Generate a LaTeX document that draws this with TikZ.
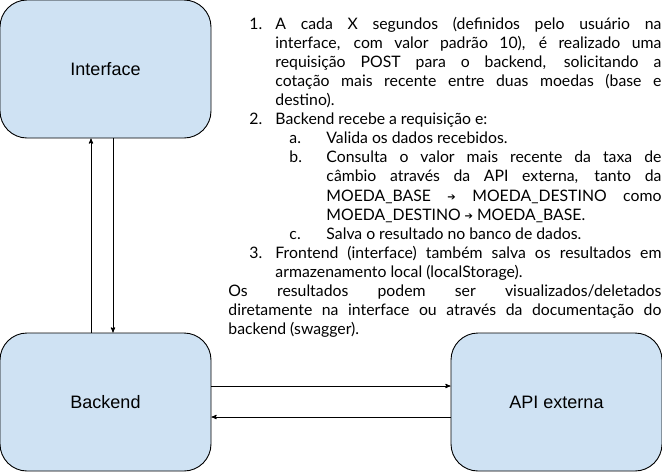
\documentclass[tikz,border=0pt]{standalone}
\usepackage{fontspec}
\setmainfont{Lato}
\newfontfamily\boxfont{Liberation Sans}
\newfontfamily\arrowfont{DejaVu Sans}
\usetikzlibrary{arrows,positioning}
\definecolor{boxblue}{HTML}{CFE2F3}
\newcommand{\ar}{{\arrowfont\fontsize{10pt}{10pt}\selectfont\raisebox{0.5pt}{➔}}}
\newcommand{\numitem}[3]{\par\leftskip=#1\relax\noindent\hbox to 0pt{\hss\makebox[#2][l]{#3}}}

\begin{document}
\begin{tikzpicture}[->,>=stealth',x=1pt,y=1pt,node distance=333pt,
                    line width=0.9pt]
  \tikzstyle{box}=[draw=black,fill=boxblue,rounded corners=27pt,
                   minimum width=211pt,minimum height=138pt,
                   font=\boxfont\fontsize{18pt}{20pt}\selectfont]
  \tikzstyle{notes}=[text width=433pt,inner sep=0pt,align=justify,
                     font=\fontsize{15.8pt}{19.06pt}\selectfont]
  \useasboundingbox (0,0) rectangle (662,-475);

  \node[box]  (IF) at (105.5,-69)                  {Interface};
  \node[box]  (BE) [below of = IF]                 {Backend};
  \node[box]  (API) [right of = BE, node distance=451pt] {API externa};

  \node[notes, anchor=north west] (TX) at (228,-10) {%
    \spaceskip=0.25em plus 0.4em minus 0.1em
    \numitem{47pt}{26pt}{1.}A cada X segundos (definidos pelo usuário na\linebreak
    interface, com valor padrão 10), é realizado uma\linebreak
    requisição POST para o backend, solicitando a\linebreak
    cotação mais recente entre duas moedas (base e\linebreak
    destino).
    \numitem{47pt}{26pt}{2.}Backend recebe a requisição e:
    \numitem{98pt}{37pt}{a.}Valida os dados recebidos.
    \numitem{98pt}{37pt}{b.}Consulta o valor mais recente da taxa de\linebreak
    câmbio através da API externa, tanto da\linebreak
    MOEDA\_BASE \ar{} MOEDA\_DESTINO como\linebreak
    MOEDA\_DESTINO \ar{} MOEDA\_BASE.
    \numitem{98pt}{37pt}{c.}Salva o resultado no banco de dados.
    \numitem{47pt}{26pt}{3.}Frontend (interface) também salva os resultados em\linebreak
    armazenamento local (localStorage).
    \par\leftskip=0pt\noindent Os resultados podem ser visualizados/deletados\linebreak
    diretamente na interface ou através da documentação do\linebreak
    backend (swagger).\par};

  \path ([xshift=-14.5pt]BE.north) edge ([xshift=-14.5pt]IF.south)
        ([xshift=7.5pt]IF.south)   edge ([xshift=7.5pt]BE.north)
        ([yshift=16pt]BE.east)     edge ([yshift=16pt]API.west)
        ([yshift=-15pt]API.west)   edge ([yshift=-15pt]BE.east);
\end{tikzpicture}
\end{document}
